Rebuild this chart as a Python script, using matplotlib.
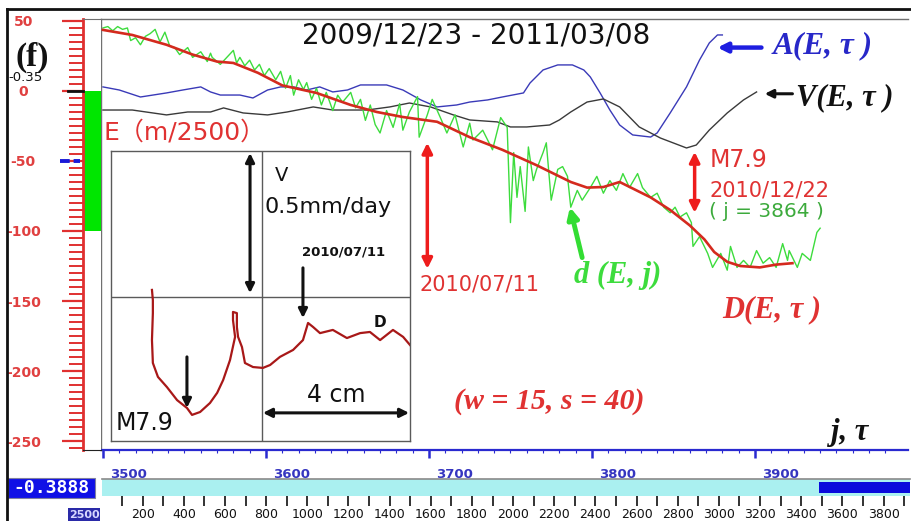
import matplotlib
matplotlib.use('Agg')
import matplotlib.pyplot as plt
from matplotlib.patches import Rectangle
from matplotlib.lines import Line2D
from matplotlib.transforms import ScaledTranslation, blended_transform_factory

plt.rcParams['axes.unicode_minus'] = False

# ---------------- data ----------------
y_ticks = [-250, -200, -150, -100, -50, 0, 50]
j_ticks = [3500, 3600, 3700, 3800, 3900]
idx_ticks = list(range(100, 4000, 100))
idx_labels = list(range(200, 3900, 200))
scale_bar = [0, -100]
idx_window = [3486, 3929]

d_j = [3500,3503,3506,3509,3512,3515,3517,3520,3523,3526,
       3529,3532,3535,3538,3541,3544,3547,3552,3555,3560,
       3564,3566,3567,3572,3576,3580,3582,3584,3587,3590,
       3593,3596,3599,3602,3606,3609,3612,3615,3617,3620,
       3623,3625,3628,3631,3634,3637,3641,3644,3647,3652,
       3655,3658,3661,3664,3667,3670,3674,3678,3682,3684,
       3688,3693,3694,3699,3702,3707,3711,3716,3721,3725,
       3727,3733,3739,3744,3748,3750,3752,3754,3756,3759,
       3761,3764,3766,3770,3772,3775,3779,3782,3785,3787,
       3791,3794,3799,3803,3807,3811,3815,3819,3823,3828,
       3831,3836,3840,3844,3848,3851,3854,3858,3861,3862,
       3866,3871,3874,3879,3883,3885,3889,3893,3897,3901,
       3905,3909,3913,3917,3920,3921,3926,3929,3934,3938,
       3940]
d_v = [45,46,43,46,44,45,36,38,33,39,
       41,44,35,42,32,31,26,31,24,28,
       21,27,24,19,24,29,20,24,18,22,
       15,19,11,16,8,14,2,11,-3,8,
       1,6,-6,2,-10,-1,-14,-3,-8,-1,
       -12,-6,-21,-10,-24,-30,-14,-26,-9,-28,
       -15,-4,-33,-17,-6,-19,-30,-17,-40,-23,
       -35,-28,-42,-19,-26,-94,-44,-76,-54,-86,
       -40,-64,-56,-44,-37,-78,-56,-54,-61,-83,
       -71,-78,-69,-61,-73,-64,-71,-59,-69,-59,
       -69,-76,-73,-83,-87,-83,-90,-87,-94,-111,
       -104,-116,-126,-116,-128,-111,-126,-121,-126,-114,
       -123,-119,-126,-109,-121,-114,-126,-116,-121,-101,
       -98]

D_j = [3500,3518,3539,3555,3570,3580,3595,3610,3631,3652,
       3668,3684,3705,3725,3745,3766,3787,3797,3807,3817,
       3836,3848,3860,3869,3875,3883,3891,3903,3913,3923]
D_v = [43.6,40,33,26,21,20,13,4,-1.4,-10,
       -15,-18.6,-22,-33,-42,-53,-65,-69,-68.6,-65,
       -76,-85,-96,-106,-115,-122,-125,-126,-124,-123]

A_j = [3500,3510,3523,3539,3549,3560,3566,3572,3584,3592,
       3601,3609,3617,3625,3633,3641,3650,3658,3668,3674,
       3684,3695,3705,3717,3725,3736,3745,3758,3762,3770,
       3779,3788,3795,3799,3805,3811,3817,3825,3836,3840,
       3848,3858,3866,3872,3877,3880]
A_v = [2.9,0.7,-4.3,-1.4,0.7,2.9,-0.7,-2.9,-2.9,-5,
       0.7,2.9,2.9,0.7,2.9,-0.7,0.7,4.3,4.3,4.3,
       0.7,-6.4,-11.4,-10,-7.9,-6.4,-4.3,-1.4,5.7,15,
       18.6,18.6,15,10,-1.4,-13.6,-24.3,-31.4,-32.9,-30,
       -15.7,2.9,22.1,34.3,40,40]

V_j = [3500,3518,3539,3552,3566,3574,3586,3601,3613,3629,
       3641,3662,3676,3688,3701,3715,3725,3742,3750,3760,
       3774,3780,3787,3797,3807,3817,3829,3842,3858,3864,
       3872,3883,3893,3901]
V_v = [-13.6,-13.6,-17.1,-15,-15,-12.1,-15.7,-17.1,-15,-11.4,
       -13.6,-13.6,-11.4,-8.6,-11.4,-17.1,-20.7,-22.1,-25.7,-25.7,
       -24.3,-20.7,-15,-7.9,-5.7,-11.4,-25.7,-33.6,-40.7,-38.6,
       -27.9,-15.7,-6.4,-0.7]

ins_x = [13.7,14.0,14.0,13.7,14.0,15.7,18.7,22.1,25.4,27.1,
         29.8,33.1,35.5,37.5,39.8,41.5,40.8,40.8,42.1,42.1,
         42.5,43.8,44.8,47.5,50.8,53.2,56.5,60.9,64.2,65.9,
         67.6,69.9,74.2,78.9,83.3,86.6,90.0,94.3,97.7,100]
ins_y = [52.1,48.6,44.1,34.8,26.9,22.1,18.6,14.1,11.4,9.0,
         10.0,13.1,16.6,21.0,27.9,35.9,41.7,44.5,44.1,39.3,
         35.9,32.4,26.9,25.5,25.2,26.2,29.0,31.4,34.8,40.7,
         39.3,37.2,38.3,35.5,37.2,37.6,34.8,38.3,35.9,33.1]

event_j = 3864
jul11_j = 3699

# ---------------- layout helpers ----------------
W, H = 911, 521
fig = plt.figure(figsize=(W / 100, H / 100), dpi=100)

def box(l, t, r, b):
    return [l / W, 1 - b / H, (r - l) / W, (b - t) / H]

SANS = ['DejaVu Sans', 'Noto Sans CJK JP']
SERIF = 'Liberation Serif'
RED = '#e03232'
LINE_RED = '#d42a1e'
GREEN = '#3ddc3d'
BLUE = '#3a3ab8'

XLIM = (3498.8, 3993.9)
YLIM = (-256.4, 51.4)

# ---------------- main axes ----------------
ax = fig.add_axes(box(101, 19, 908, 450))
ax.set_xlim(*XLIM)
ax.set_ylim(*YLIM)
for s in ['top', 'left']:
    ax.spines[s].set_color('#707070')
    ax.spines[s].set_linewidth(1)
ax.spines['right'].set_visible(False)
ax.spines['bottom'].set_color('#2a2ad0')
ax.spines['bottom'].set_linewidth(1.6)
ax.set_yticks([])
ax.set_xticks(j_ticks)
ax.set_xticks(range(3500, 3990, 10), minor=True)
ax.tick_params(axis='x', which='major', direction='out', length=6, width=1.8,
               color='#2a2ad0', labelcolor='#3535c0', labelsize=9.5, pad=7)
ax.tick_params(axis='x', which='minor', direction='out', length=2, width=0.8,
               color='#2a2ad0')
for lbl in ax.get_xticklabels():
    lbl.set_ha('left')
    lbl.set_fontweight('bold')
    lbl.set_transform(lbl.get_transform() + ScaledTranslation(0.07, 0, fig.dpi_scale_trans))

ax.plot(A_j, A_v, color=BLUE, lw=1.0, zorder=3)
ax.plot(V_j, V_v, color='#3a3a3a', lw=1.0, zorder=3)
ax.plot(d_j, d_v, color=GREEN, lw=1.0, zorder=4)
ax.plot(D_j, D_v, color=LINE_RED, lw=1.9, zorder=5)

# texts in main axes
ax.text(3729, 39.5, '2009/12/23 - 2011/03/08', fontsize=20, family=SANS,
        ha='center', va='center', color='#111111')
ax.text(3500.5, -29.5, 'E（m/2500）', fontsize=18, family=SANS, color=RED,
        ha='left', va='center')
ax.text(3694.5, -138, '2010/07/11', fontsize=15, family=SANS, color=RED,
        ha='left', va='center')
ax.text(event_j + 8, -49.5, 'M7.9', fontsize=17, family=SANS, color=RED,
        ha='left', va='center')
ax.text(event_j + 8, -71, '2010/12/22', fontsize=15, family=SANS, color=RED,
        ha='left', va='center')
ax.text(event_j + 8, -86, '( j = 3864 )', fontsize=14.5, family=SANS,
        color='#3caa3c', ha='left', va='center')

bi = dict(family=SERIF, fontweight='bold', fontstyle='italic')
ax.text(3911, 32, 'A(E, τ )', fontsize=22.5, color='#2828c8', ha='left', va='center', **bi)
ax.text(3925, -4.5, 'V(E, τ )', fontsize=22, color='#111111', ha='left', va='center', **bi)
ax.text(3816, -132, 'd (E, j)', fontsize=22, color=GREEN, ha='center', va='center', **bi)
ax.text(3910, -156, 'D(E, τ )', fontsize=22, color=RED, ha='center', va='center', **bi)
ax.text(3774, -222, '(w = 15, s = 40)', fontsize=21.5, color=RED, ha='center', va='center', **bi)
ax.text(3958, -244, 'j, τ', fontsize=22, color='#111111', ha='center', va='center', **bi)

# arrows in main axes
def arr(a, xy, xytext, color, style='-|>', lw=2.5, ms=16):
    a.annotate('', xy=xy, xytext=xytext,
               arrowprops=dict(arrowstyle=style, color=color, lw=lw,
                               mutation_scale=ms, shrinkA=0, shrinkB=0))

arr(ax, (3877, 31), (3904, 31), '#1e1ee0', lw=3.2, ms=14)
arr(ax, (3906, -2), (3923, -2), '#111111', lw=2.2, ms=12)
arr(ax, (jul11_j, -37), (jul11_j, -127), '#ee1c1c', style='<|-|>', lw=2.5, ms=15)
arr(ax, (event_j - 1, -43.5), (event_j - 1, -87), '#ee1c1c', style='<|-|>', lw=2.5, ms=15)
arr(ax, (3786.5, -83), (3794, -119), '#33dd33', lw=3.5, ms=16)

# ---------------- scale bar axes ----------------
axb = fig.add_axes(box(83, 19, 101, 450))
axb.set_xlim(0, 1)
axb.set_ylim(*YLIM)
axb.bar(0.5, scale_bar[1] - scale_bar[0], bottom=scale_bar[0], width=1.0,
        color='#00e600', zorder=2)
axb.spines['right'].set_visible(False)
axb.spines['top'].set_color('#707070')
axb.spines['bottom'].set_color('#222222')
axb.spines['left'].set_color('#e03030')
axb.spines['left'].set_linewidth(2)
axb.set_xticks([])
axb.set_yticks(y_ticks)
axb.set_yticks(range(-255, 55, 5), minor=True)
axb.tick_params(axis='y', which='major', direction='out', length=15, width=1.6,
                color='#e03030', labelcolor='#e04040', labelsize=10, pad=28)
axb.tick_params(axis='y', which='minor', direction='out', length=10, width=1.4,
                color='#e03030')
for lbl in axb.get_yticklabels():
    lbl.set_ha('center')
    lbl.set_fontweight('bold')
tb = blended_transform_factory(axb.transAxes, axb.transData)
axb.add_line(Line2D([-0.85, 0], [0, 0], transform=tb, color='#111111', lw=2, clip_on=False, zorder=5))
axb.add_line(Line2D([-1.3, -0.15], [-50, -50], transform=tb, color='#1a1ad8', lw=2.8,
                    ls=(0, (2.5, 1)), clip_on=False, zorder=5))

# ---------------- inset ----------------
axi = fig.add_axes(box(111, 151, 410, 441))
axi.set_zorder(6)
axi.set_xlim(0, 100)
axi.set_ylim(0, 100)
axi.set_xticks([])
axi.set_yticks([])
for s in axi.spines.values():
    s.set_color('#5a5a5a')
    s.set_linewidth(1.0)
axi.axvline(50.5, color='#5a5a5a', lw=1.0)
axi.axhline(49.7, color='#5a5a5a', lw=1.0)
axi.plot(ins_x, ins_y, color='#a81818', lw=1.6)
arr(axi, (46.5, 51), (46.5, 99.3), '#111111', style='<|-|>', lw=2.2, ms=13)
arr(axi, (64.2, 42.4), (64.2, 59.7), '#111111', lw=2.2, ms=13)
arr(axi, (25.4, 11.4), (25.4, 29), '#111111', lw=2.2, ms=13)
arr(axi, (50.8, 9.7), (99.7, 9.7), '#111111', style='<|-|>', lw=2.2, ms=13)
axi.text(56.9, 91.4, 'V', fontsize=14, family=SANS, color='#111111', ha='center', va='center')
axi.text(51.5, 80.7, '0.5mm/day', fontsize=16, family=SANS, color='#111111', ha='left', va='center')
axi.text(77.9, 65.2, '2010/07/11', fontsize=9.5, family=SANS, fontweight='bold',
         color='#111111', ha='center', va='center')
axi.text(90, 41, 'D', fontsize=11, family=SANS, fontweight='bold', color='#111111',
         ha='center', va='center')
axi.text(1.5, 6.2, 'M7.9', fontsize=17, family=SANS, color='#111111', ha='left', va='center')
axi.text(75.3, 15.9, '4 cm', fontsize=17, family=SANS, color='#111111', ha='center', va='center')

# ---------------- bottom index strip ----------------
axx = fig.add_axes(box(101.5, 479, 910, 496))
axx.set_xlim(0, 3928.6)
axx.set_ylim(0, 1)
axx.barh(0.5, 3928.6, left=0, height=1.0, color='#aaf0f0', zorder=1)
axx.barh(0.5, idx_window[1] - idx_window[0], left=idx_window[0], height=0.62,
         color='#0a0adc', zorder=2)
for s in ['left', 'right', 'bottom']:
    axx.spines[s].set_visible(False)
axx.spines['top'].set_color('#8a8a8a')
axx.spines['top'].set_linewidth(1.2)
axx.set_yticks([])
axx.set_xticks(idx_ticks)
axx.set_xticklabels([str(t) if t in idx_labels else '' for t in idx_ticks])
axx.tick_params(axis='x', direction='out', length=7, width=1.3, color='#222222',
                labelsize=9, labelcolor='#111111', pad=2)

# ---------------- figure-level decorations ----------------
fig.add_artist(Line2D([7 / W, 7 / W], [0, 1 - 9 / H], transform=fig.transFigure,
                      color='#111111', lw=2))
fig.add_artist(Line2D([7 / W, 1], [1 - 9 / H, 1 - 9 / H], transform=fig.transFigure,
                      color='#111111', lw=2))
fig.text(32 / W, 1 - 57 / H, '(f)', fontsize=24, family=SERIF, fontweight='bold',
         ha='center', va='center', color='#111111')
fig.text(8 / W, 1 - 77.5 / H, '-0.35', fontsize=9.5, family=SANS, ha='left', va='center',
         color='#111111')
fig.add_artist(Rectangle((8 / W, 1 - 498 / H), 87 / W, 20 / H, transform=fig.transFigure,
                         facecolor='#1010e6', edgecolor='#8080a0', lw=0.8))
fig.text(51.5 / W, 1 - 488 / H, '-0.3888', fontsize=13, family='DejaVu Sans Mono',
         fontweight='bold', color='white', ha='center', va='center')
fig.add_artist(Rectangle((68 / W, 0), 32 / W, 13 / H, transform=fig.transFigure,
                         facecolor='#2a2aa8', edgecolor='none'))
fig.text(84 / W, 6 / H, '2500', fontsize=8, family=SANS, fontweight='bold',
         color='#d8d8ff', ha='center', va='center')

fig.savefig('out.png', dpi=100)
